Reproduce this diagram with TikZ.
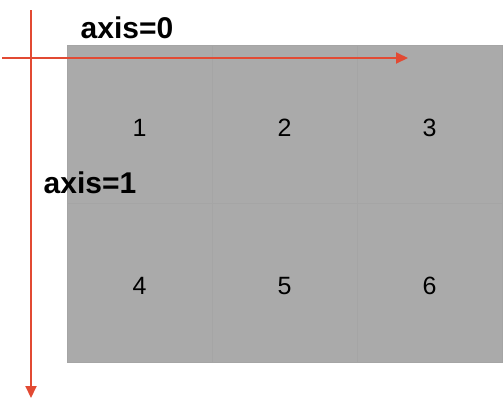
\documentclass[tikz,border=0pt]{standalone}
\usepackage{fontspec}
\setmainfont{Liberation Sans}
\usetikzlibrary{arrows.meta,positioning}
\definecolor{cellgray}{RGB}{170,170,170}
\definecolor{axisred}{RGB}{226,74,51}

\begin{document}
\begin{tikzpicture}[x=1pt, y=-1pt, >={Triangle[length=12pt,width=11pt]}, node distance=0pt,
    cell/.style={rectangle, fill=cellgray, draw=cellgray!97!black, line width=0.3pt,
        minimum width=145pt, minimum height=158.5pt, inner sep=0pt, outer sep=0pt,
        text height=24pt, text depth=0pt, font=\fontsize{25}{30}\selectfont},
    axis/.style={->, draw=axisred, line width=2pt},
    axislabel/.style={font=\bfseries\fontsize{30}{34}\selectfont, inner sep=0pt}]
    \useasboundingbox (0,0) rectangle (504,402);

    % Cells {1, 2, 3, 4, 5, 6}
    \node [cell] (c1) at (139.5,124.25) {1};
    \node [cell] (c2) [right=of c1] {2};
    \node [cell] (c3) [right=of c2] {3};
    \node [cell] (c4) [below=of c1] {4};
    \node [cell] (c5) [right=of c4] {5};
    \node [cell] (c6) [right=of c5] {6};

    % Axes
    \coordinate (h0) at (2,58);
    \coordinate (h1) at (408,58);
    \coordinate (v0) at (31,10);
    \coordinate (v1) at (31,398);
    \draw [axis] (h0) -- (h1);
    \draw [axis] (v0) -- (v1);

    % Labels
    \node [axislabel] (ax0) at (127,28) {axis=0};
    \node [axislabel] (ax1) at (90,183) {axis=1};
\end{tikzpicture}
\end{document}
